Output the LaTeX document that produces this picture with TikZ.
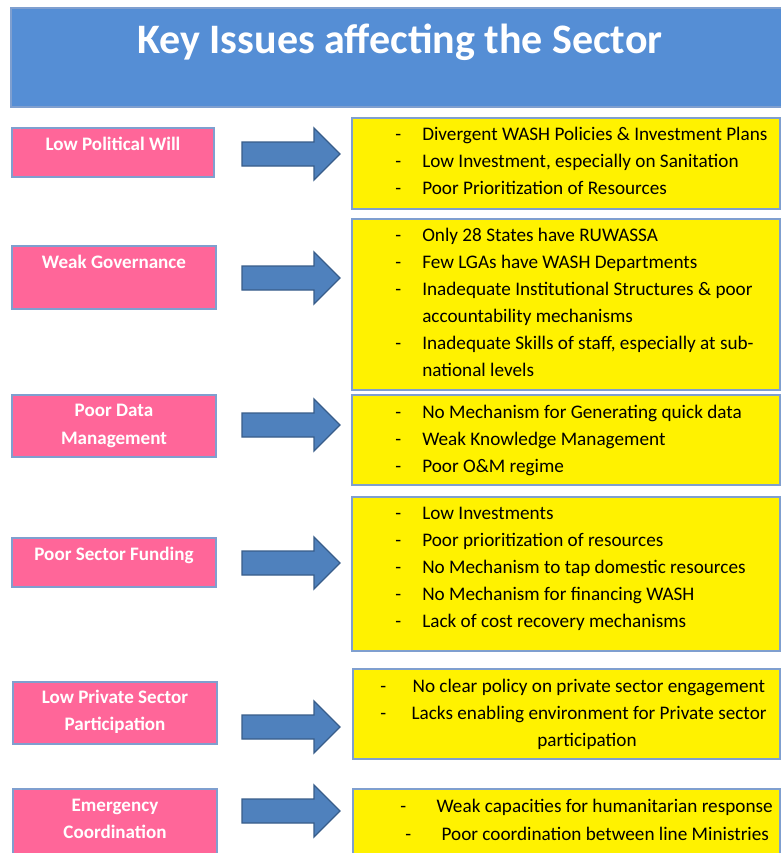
\documentclass[tikz,border=0pt]{standalone}
\usepackage{fontspec}
\setmainfont{Carlito}
\newlength\pxu
\setlength\pxu{0.75pt}
\newcommand{\bul}[1][27]{\makebox[#1\pxu][l]{-}}
\definecolor{headblue}{RGB}{85,142,213}
\definecolor{hotpink}{RGB}{255,102,153}
\definecolor{boxedge}{RGB}{127,159,207}
\definecolor{arrowblue}{RGB}{79,129,189}
\definecolor{arrowedge}{RGB}{56,93,138}
\begin{document}
\begin{tikzpicture}[x=0.75pt,y=-0.75pt,
    header/.style={draw=boxedge, fill=headblue, line width=1pt},
    causebox/.style={draw=boxedge, fill=hotpink, line width=1.2pt},
    effectbox/.style={draw=boxedge, fill=yellow, line width=1.5pt},
    blockarrow/.style={draw=arrowedge, fill=arrowblue, line width=1pt, line join=miter},
    title/.style={text=white, font=\bfseries\fontsize{31.5}{36}\selectfont, inner sep=0pt, anchor=base},
    cause/.style={text=white, font=\bfseries\fontsize{14.3}{17}\selectfont, inner sep=0pt, anchor=base},
    issue/.style={font=\fontsize{14.4}{17}\selectfont, inner sep=0pt, anchor=base west}]
  \clip (0,0) rectangle (781,853);
  \fill[white] (0,0) rectangle (781,853);

  % header
  \draw[header] (11,8) rectangle (790,107);
  \node[title] (title) at (400,53) {Key Issues affecting the Sector};

  % causes
  \draw[causebox] (12,128) rectangle (214,177);
  \node[cause] (will) at (113,150) {Low Political Will};
  \draw[causebox] (12,246) rectangle (216,309);
  \node[cause] (gov) at (114,268) {Weak Governance};
  \draw[causebox] (12,395) rectangle (216,457);
  \node[cause] (data1) at (114,416) {Poor Data};
  \node[cause] (data2) at (114,444) {Management};
  \draw[causebox] (12,538) rectangle (216,587);
  \node[cause] (fund) at (114,560) {Poor Sector Funding};
  \draw[causebox] (13,682) rectangle (217,744);
  \node[cause] (priv1) at (115,703) {Low Private Sector};
  \node[cause] (priv2) at (115,730) {Participation};
  \draw[causebox] (13,789) rectangle (217,870);
  \node[cause] (emer1) at (115,811) {Emergency};
  \node[cause] (emer2) at (115,838) {Coordination};

  % arrows
  \foreach \y in {154,278,425,563,727,811}
    \draw[blockarrow] (242,\y-12) -- (314,\y-12) -- (314,\y-26) -- (340,\y)
      -- (314,\y+26) -- (314,\y+12) -- (242,\y+12) -- cycle;

  % issues
  \draw[effectbox] (352,118) rectangle (780,209);
  \node[issue] (will1) at (395,140) {\bul Divergent WASH Policies \& Investment Plans};
  \node[issue] (will2) at (395,167) {\bul Low Investment, especially on Sanitation};
  \node[issue] (will3) at (395,194) {\bul Poor Prioritization of Resources};

  \draw[effectbox] (352,219) rectangle (780,390);
  \node[issue] (gov1) at (395,241) {\bul Only 28 States have RUWASSA};
  \node[issue] (gov2) at (395,268) {\bul Few LGAs have WASH Departments};
  \node[issue] (gov3) at (395,295) {\bul Inadequate Institutional Structures \& poor};
  \node[issue] (gov3b) at (422,322) {accountability mechanisms};
  \node[issue] (gov4) at (395,349) {\bul Inadequate Skills of staff, especially at sub-};
  \node[issue] (gov4b) at (422,376) {national levels};

  \draw[effectbox] (352,395) rectangle (780,485);
  \node[issue] (data3) at (395,418) {\bul No Mechanism for Generating quick data};
  \node[issue] (data4) at (395,445) {\bul Weak Knowledge Management};
  \node[issue] (data5) at (395,472) {\bul Poor O\&M regime};

  \draw[effectbox] (352,497) rectangle (780,651);
  \node[issue] (fund1) at (395,519) {\bul Low Investments};
  \node[issue] (fund2) at (395,546) {\bul Poor prioritization of resources};
  \node[issue] (fund3) at (395,573) {\bul No Mechanism to tap domestic resources};
  \node[issue] (fund4) at (395,600) {\bul No Mechanism for financing WASH};
  \node[issue] (fund5) at (395,627) {\bul Lack of cost recovery mechanisms};

  \draw[effectbox] (353,669) rectangle (780,759);
  \node[issue] (priv3) at (380,692) {\bul[28] No clear policy on private sector engagement};
  \node[issue] (priv4) at (380,719) {\bul[27] Lacks enabling environment for Private sector};
  \node[issue, anchor=base] (priv4b) at (587,746) {participation};

  \draw[effectbox] (353,789) rectangle (780,870);
  \node[issue] (emer3) at (400,812) {\bul[32] Weak capacities for humanitarian response};
  \node[issue] (emer4) at (405,840) {\bul[32] Poor coordination between line Ministries};
\end{tikzpicture}
\end{document}
